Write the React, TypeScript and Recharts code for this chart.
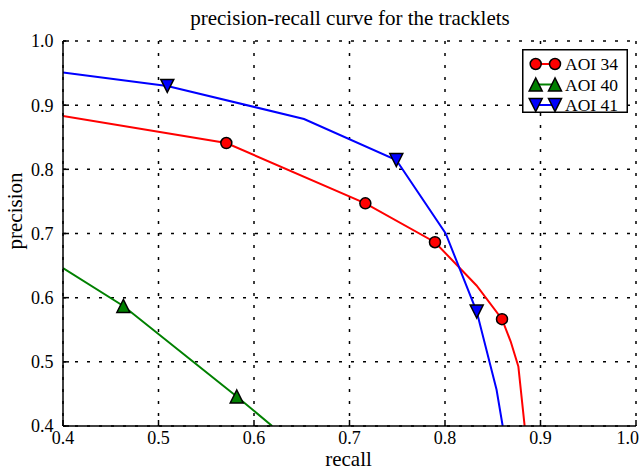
import { CartesianGrid, Customized, Legend, Line, LineChart, XAxis, YAxis } from "recharts";

// precision-recall curves, one pair of arrays per AOI
const recall34 = [0.4, 0.571, 0.7166, 0.7895, 0.833, 0.8597, 0.8688, 0.8768, 0.8834];
const precision34 = [0.883, 0.841, 0.747, 0.6864, 0.619, 0.5665, 0.5316, 0.4927, 0.4];
const markers34 = [1, 2, 3, 5];

const recall40 = [0.4, 0.4632, 0.5819, 0.619];
const precision40 = [0.646, 0.587, 0.446, 0.4];
const markers40 = [1, 2];

const recall41 = [0.4, 0.5092, 0.6524, 0.749, 0.8007, 0.8332, 0.854, 0.8604];
const precision41 = [0.951, 0.93, 0.8785, 0.8146, 0.7, 0.5784, 0.4564, 0.4];
const markers41 = [1, 3, 5];

const ticks = [0.4, 0.5, 0.6, 0.7, 0.8, 0.9, 1.0];

const FONT = "'Liberation Serif', 'Times New Roman', serif";

type Shape = "circle" | "up" | "down";

const toPoints = (xs: number[], ys: number[]) => xs.map((x, i) => ({ recall: x, precision: ys[i] }));

const series = [
  { name: "AOI 34", color: "#ff0000", shape: "circle" as Shape, data: toPoints(recall34, precision34), marks: markers34 },
  { name: "AOI 40", color: "#008000", shape: "up" as Shape, data: toPoints(recall40, precision40), marks: markers40 },
  { name: "AOI 41", color: "#0000ff", shape: "down" as Shape, data: toPoints(recall41, precision41), marks: markers41 },
];

function Marker({ shape, cx, cy, color }: { shape: Shape; cx: number; cy: number; color: string }) {
  if (shape === "circle") {
    return <circle cx={cx} cy={cy} r={5.5} fill={color} stroke="#000" strokeWidth={1.5} />;
  }
  const s = 6.5;
  const pts =
    shape === "up"
      ? `${cx},${cy - s} ${cx - s},${cy + s} ${cx + s},${cy + s}`
      : `${cx},${cy + s} ${cx - s},${cy - s} ${cx + s},${cy - s}`;
  return <polygon points={pts} fill={color} stroke="#000" strokeWidth={1.5} strokeLinejoin="miter" />;
}

// legend drawn as one small svg box, placed over the upper right corner
function LegendBox() {
  return (
    <svg width={106} height={72} style={{ display: "block", overflow: "visible" }}>
      <rect x={0.75} y={0.75} width={104.5} height={62.5} fill="#fff" stroke="#000" strokeWidth={1.5} />
      {series.map((s, i) => {
        const cy = 15 + i * 20.5;
        return (
          <g key={s.name}>
            <line x1={13.7} x2={33} y1={cy} y2={cy} stroke={s.color} strokeWidth={2} />
            <Marker shape={s.shape} cx={13.7} cy={cy} color={s.color} />
            <Marker shape={s.shape} cx={33} cy={cy} color={s.color} />
            <text x={43} y={cy} dy="0.35em" fontSize={17.5} fontFamily={FONT} fill="#000">
              {s.name}
            </text>
          </g>
        );
      })}
    </svg>
  );
}

function Texts() {
  return (
    <g fontFamily={FONT} fill="#000">
      <text x={350} y={25} fontSize={21} textAnchor="middle">
        precision-recall curve for the tracklets
      </text>
      <text x={348.5} y={466} fontSize={21} textAnchor="middle">
        recall
      </text>
      <text x={21.5} y={211} fontSize={21} textAnchor="middle" transform="rotate(-90 21.5 211)">
        precision
      </text>
    </g>
  );
}

const tickStyle = { fill: "#000", fontSize: 18, fontFamily: FONT };
const fmt = (v: number) => v.toFixed(1);
const blank = () => "";

export default function App() {
  return (
    <div style={{ position: "absolute", left: 0, top: 0, background: "#fff" }}>
      <LineChart width={639} height={470} margin={{ top: 41, right: 3, bottom: 0, left: 0 }}>
        <CartesianGrid stroke="#000" strokeWidth={1.5} strokeDasharray="3 9" />
        <XAxis
          dataKey="recall"
          type="number"
          domain={[0.4, 1.0]}
          ticks={ticks}
          tickFormatter={fmt}
          allowDataOverflow
          height={44}
          tickSize={-6}
          tickMargin={11}
          tick={tickStyle}
          axisLine={{ stroke: "#000", strokeWidth: 1.5 }}
          tickLine={{ stroke: "#000", strokeWidth: 1.5 }}
        />
        <XAxis
          xAxisId="top"
          orientation="top"
          dataKey="recall"
          type="number"
          domain={[0.4, 1.0]}
          ticks={ticks}
          tickFormatter={blank}
          height={0}
          tickSize={-6}
          axisLine={{ stroke: "#000", strokeWidth: 1.5 }}
          tickLine={{ stroke: "#000", strokeWidth: 1.5 }}
        />
        <YAxis
          type="number"
          domain={[0.4, 1.0]}
          ticks={ticks}
          tickFormatter={fmt}
          allowDataOverflow
          width={63}
          tickSize={-6}
          tickMargin={15.5}
          tick={tickStyle}
          axisLine={{ stroke: "#000", strokeWidth: 1.5 }}
          tickLine={{ stroke: "#000", strokeWidth: 1.5 }}
        />
        <YAxis
          yAxisId="right"
          orientation="right"
          type="number"
          domain={[0.4, 1.0]}
          ticks={ticks}
          tickFormatter={blank}
          width={0}
          tickSize={-6}
          axisLine={{ stroke: "#000", strokeWidth: 1.5 }}
          tickLine={{ stroke: "#000", strokeWidth: 1.5 }}
        />
        {series.map((s) => (
          <Line
            key={s.name}
            name={s.name}
            data={s.data}
            dataKey="precision"
            type="linear"
            stroke={s.color}
            strokeWidth={2}
            isAnimationActive={false}
            dot={(p: any) =>
              s.marks.includes(p.index) ? (
                <Marker key={`${s.name}-${p.index}`} shape={s.shape} cx={p.cx} cy={p.cy} color={s.color} />
              ) : (
                <g key={`${s.name}-${p.index}`} />
              )
            }
            activeDot={false}
          />
        ))}
        <Legend
          layout="vertical"
          align="center"
          verticalAlign="middle"
          content={() => <LegendBox />}
          wrapperStyle={{ left: 522, top: 49, width: 106, height: 72 }}
        />
        <Customized component={<Texts />} />
      </LineChart>
    </div>
  );
}
